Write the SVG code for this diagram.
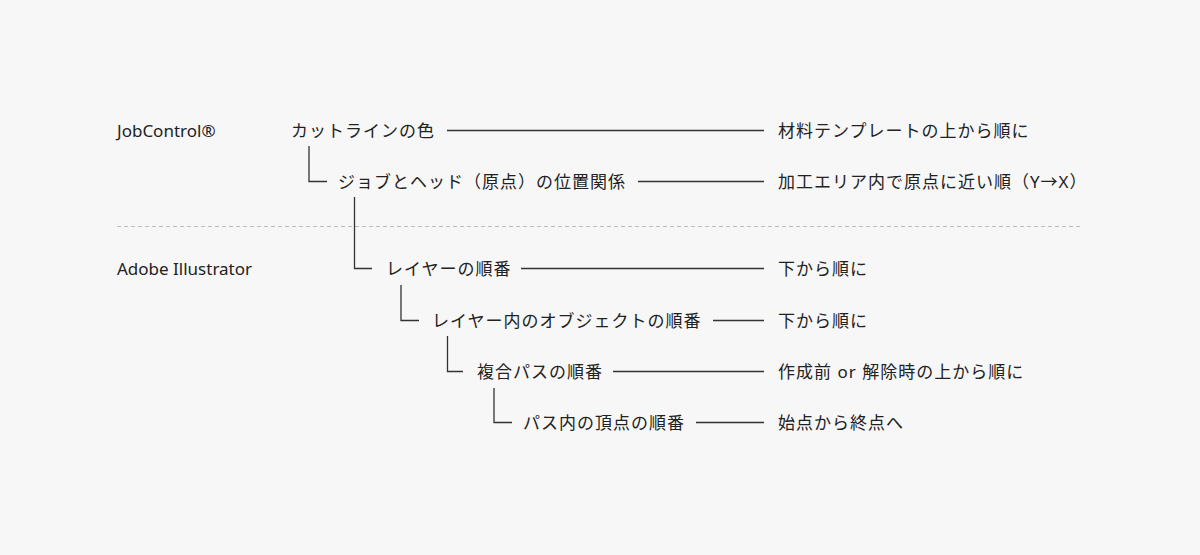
<svg xmlns="http://www.w3.org/2000/svg" width="1200" height="555" viewBox="0 0 1200 555">
<style>
.t{font-family:"Noto Sans","Noto Sans CJK JP",sans-serif;font-size:17px;fill:#222;dominant-baseline:central}
.j{letter-spacing:1px}
.c{stroke:#333;stroke-width:1.3;fill:none}
.d{stroke:#bdbdbd;stroke-width:1;stroke-dasharray:4 3;fill:none}
</style>
<rect width="1200" height="555" fill="#f7f7f7"/>
<g id="labels">
<text class="t" x="117" y="130">JobControl®</text>
<text class="t" x="117" y="268">Adobe Illustrator</text>
</g>
<line class="d" x1="117" y1="226.5" x2="1083" y2="226.5"/>
<g id="n1"><text class="t j" x="291" y="130">カットラインの色</text><text class="t j" x="778" y="130">材料テンプレートの上から順に</text></g>
<g id="n2"><text class="t j" x="338" y="181">ジョブとヘッド（原点）の位置関係</text><text class="t j" x="778" y="181">加工エリア内で原点に近い順（Y→X）</text></g>
<g id="n3"><text class="t j" x="386" y="268">レイヤーの順番</text><text class="t j" x="778" y="268">下から順に</text></g>
<g id="n4"><text class="t j" x="432" y="320">レイヤー内のオブジェクトの順番</text><text class="t j" x="778" y="320">下から順に</text></g>
<g id="n5"><text class="t j" x="477" y="371">複合パスの順番</text><text class="t j" x="778" y="371">作成前 or 解除時の上から順に</text></g>
<g id="n6"><text class="t j" x="523" y="422">パス内の頂点の順番</text><text class="t j" x="778" y="422">始点から終点へ</text></g>
<g id="connectors">
<path class="c" d="M447 130.5H764"/>
<path class="c" d="M638 181.5H764"/>
<path class="c" d="M521 268.5H764"/>
<path class="c" d="M713 320.5H764"/>
<path class="c" d="M613 371.5H764"/>
<path class="c" d="M696 422.5H764"/>
<path class="c" d="M309 146V181.5H327"/>
<path class="c" d="M354.5 197V268.5H372"/>
<path class="c" d="M401 285V320.5H419"/>
<path class="c" d="M447.5 336V371.5H463"/>
<path class="c" d="M494 388V422.5H512"/>
</g>
</svg>
